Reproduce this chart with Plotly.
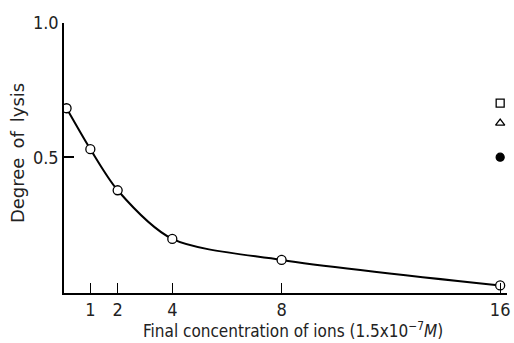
import plotly.graph_objects as go

# Lysis measured against ion concentration (units of 1.5x10^-7 M)
conc = [0.13, 1, 2, 4, 8, 16]
lysis = [0.683, 0.531, 0.378, 0.197, 0.119, 0.024]

# Reference points drawn at the right edge
ref_x = [16, 16, 16]
ref_y = [0.702, 0.628, 0.501]
ref_symbols = ["square-open", "triangle-up-open", "circle"]

x_ticks = [1, 2, 4, 8, 16]
y_ticks = [0.5, 1.0]
y_ticklabels = ["0.5", "1.0"]

FONT = "DejaVu Sans Condensed"

fig = go.Figure()

fig.add_trace(go.Scatter(
    x=conc, y=lysis, mode="lines",
    line=dict(color="black", width=2, shape="spline", smoothing=0.8),
    hoverinfo="skip", showlegend=False,
))
fig.add_trace(go.Scatter(
    x=conc, y=lysis, mode="markers",
    marker=dict(symbol="circle", size=9, color="white",
                line=dict(color="black", width=1.3)),
    showlegend=False,
))
for xv, yv, sym in zip(ref_x, ref_y, ref_symbols):
    fig.add_trace(go.Scatter(
        x=[xv], y=[yv], mode="markers",
        marker=dict(symbol=sym, size=8, color="black",
                    line=dict(color="black", width=1.3)),
        showlegend=False,
    ))

fig.update_layout(
    width=514, height=343,
    margin=dict(l=64, r=4, t=23, b=50),
    paper_bgcolor="white", plot_bgcolor="white",
    font=dict(family=FONT, size=17, color="#222"),
    xaxis=dict(
        range=[0.036, 16.25], showgrid=False, zeroline=False,
        showline=True, linecolor="black", linewidth=1.5,
        tickmode="array", tickvals=x_ticks, ticktext=[str(t) for t in x_ticks],
        ticks="inside", ticklen=10, tickwidth=1, tickcolor="black",
        tickfont=dict(size=18),
    ),
    yaxis=dict(
        range=[-0.004, 1.0], showgrid=False, zeroline=False,
        showline=True, linecolor="black", linewidth=1.5,
        tickmode="array", tickvals=y_ticks, ticktext=y_ticklabels,
        ticks="inside", ticklen=10, tickwidth=1.5, tickcolor="black",
        tickfont=dict(size=18),
    ),
    annotations=[
        dict(
            text="Degree\u2002of\u2002lysis", textangle=-90,
            xref="paper", yref="paper", x=-0.105, y=0.52,
            xanchor="center", yanchor="middle", showarrow=False,
            font=dict(family="DejaVu Sans", size=18, color="#222"),
        ),
        dict(
            text="Final concentration of ions (1.5x10<sup>\u22127</sup><i>M</i>)",
            xref="paper", yref="paper", x=0.518, y=-0.088,
            xanchor="center", yanchor="top", showarrow=False,
            font=dict(family=FONT, size=17, color="#222"),
        ),
    ],
)

fig.write_html("out.html")
